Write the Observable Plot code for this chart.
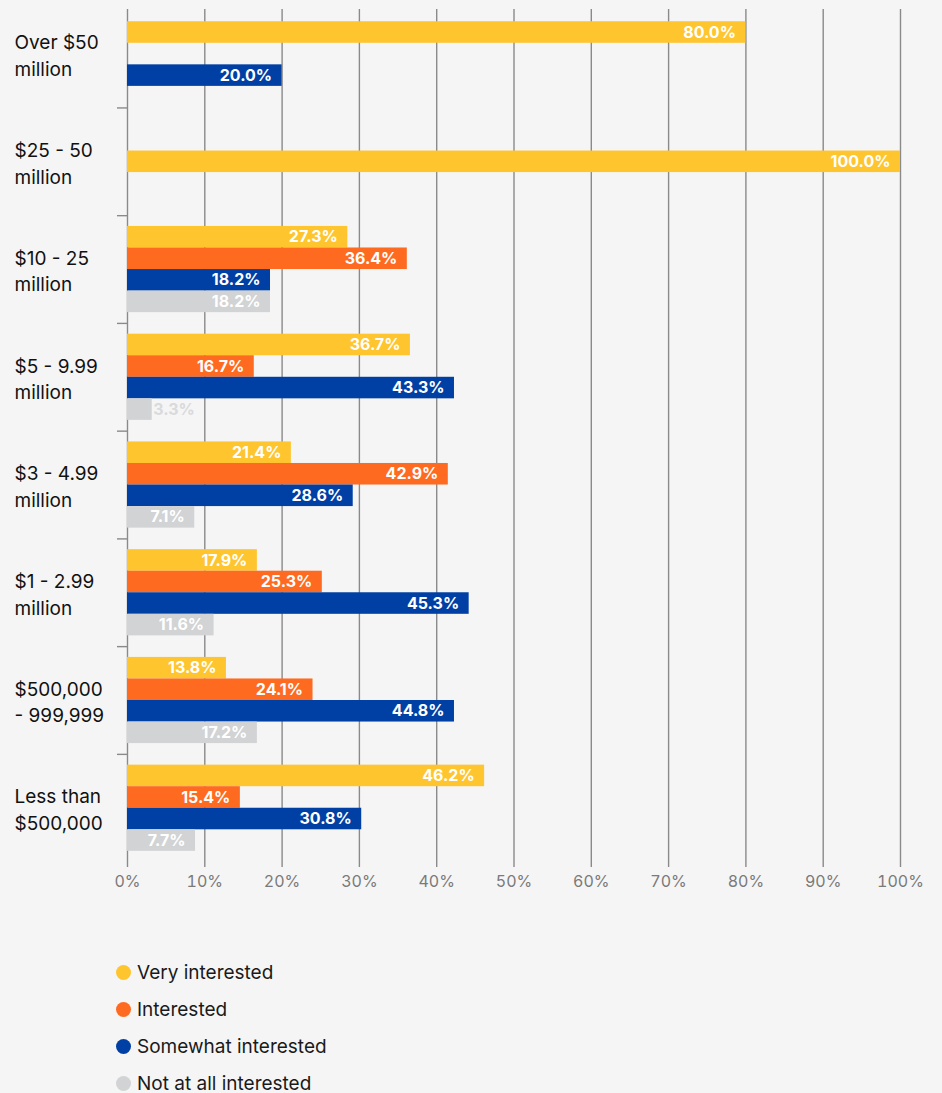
<!DOCTYPE html>
<html>
<head>
<meta charset="utf-8">
<script src="https://cdn.jsdelivr.net/npm/d3@7"></script>
<script src="https://cdn.jsdelivr.net/npm/@observablehq/plot@0.6"></script>
<style>
  html, body { margin: 0; padding: 0; background: #f5f5f5; }
  body { width: 942px; height: 1093px; overflow: hidden; font-family: Inter, "Liberation Sans", sans-serif; }
  #legend { margin-top: 49px; padding-left: 116px; }
  .item { display: flex; align-items: center; height: 37px; font-size: 19px; color: #1a1a1a; }
  .dot { width: 15px; height: 15px; border-radius: 50%; margin-right: 6px; flex: none; }
</style>
</head>
<body>
<div id="chart"></div>
<div id="legend"></div>
<script>
const categories = [
  "Over $50\nmillion",
  "$25 - 50\nmillion",
  "$10 - 25\nmillion",
  "$5 - 9.99\nmillion",
  "$3 - 4.99\nmillion",
  "$1 - 2.99\nmillion",
  "$500,000\n- 999,999",
  "Less than\n$500,000"
];
const series = ["Very interested", "Interested", "Somewhat interested", "Not at all interested"];
const colors = ["#ffc52f", "#ff6a21", "#0040a5", "#d1d3d4"];

// Bar lengths as drawn in the picture (percent)
const veryInterested = [80.0, 100.0, 28.5, 36.6, 21.2, 16.8, 12.8, 46.2];
const interested     = [0, 0, 36.2, 16.4, 41.5, 25.2, 24.0, 14.6];
const somewhat       = [20.0, 0, 18.5, 42.3, 29.2, 44.2, 42.3, 30.3];
const notAtAll       = [0, 0, 18.5, 3.2, 8.7, 11.2, 16.8, 8.8];

// Value labels as printed on the bars
const veryInterestedLabels = ["80.0%", "100.0%", "27.3%", "36.7%", "21.4%", "17.9%", "13.8%", "46.2%"];
const interestedLabels     = ["", "", "36.4%", "16.7%", "42.9%", "25.3%", "24.1%", "15.4%"];
const somewhatLabels       = ["20.0%", "", "18.2%", "43.3%", "28.6%", "45.3%", "44.8%", "30.8%"];
const notAtAllLabels       = ["", "", "18.2%", "3.3%", "7.1%", "11.6%", "17.2%", "7.7%"];

const xTicks = [0, 10, 20, 30, 40, 50, 60, 70, 80, 90, 100];

const values = [veryInterested, interested, somewhat, notAtAll];
const labels = [veryInterestedLabels, interestedLabels, somewhatLabels, notAtAllLabels];
const slot = 0.2;
const rows = [];
categories.forEach((c, i) => {
  const vals = values.map(v => v[i]);
  const nz = vals.map((v, j) => v > 0 ? j : -1).filter(j => j >= 0);
  const first = nz[0], last = nz[nz.length - 1];
  const n = last - first + 1;
  vals.forEach((v, j) => {
    if (!(v > 0)) return;
    const center = i + 0.5 + (j - first - (n - 1) / 2) * slot;
    rows.push({cat: c, series: series[j], color: colors[j], value: v,
      y1: center - slot / 2, y2: center + slot / 2, yc: center,
      label: labels[j][i]});
  });
});

const boundaries = d3.range(1, categories.length);

const chart = Plot.plot({
  width: 942,
  height: 905,
  marginLeft: 127,
  marginRight: 42,
  marginTop: 9,
  marginBottom: 38,
  style: {background: "#f5f5f5", fontFamily: "Inter, 'Liberation Sans', sans-serif", overflow: "visible"},
  x: {domain: [0, 100], axis: null},
  y: {domain: [0.0864, 8.05], reverse: true, axis: null},
  marks: [
    Plot.gridX(xTicks, {stroke: "#8a8a8a", strokeOpacity: 1, strokeWidth: 1.4}),
    Plot.axisX(xTicks, {anchor: "bottom", label: null, tickSize: 0, tickPadding: 8, tickFormat: d => d + "%", fontSize: 16, color: "#7a7a7a"}),
    Plot.axisY(boundaries, {anchor: "left", label: null, tickSize: 10, tickFormat: () => "", color: "#8a8a8a", strokeWidth: 1.4}),
    Plot.text(categories, {y: (d, i) => i + 0.5, text: d => d, frameAnchor: "left", dx: -113, textAnchor: "start",
      fontSize: 19, lineHeight: 1.4, fill: "#111"}),
    Plot.rectX(rows, {x1: 0, x2: "value", y1: "y1", y2: "y2", fill: "color"}),
    Plot.text(rows.filter(d => d.value >= 5), {x: "value", y: "yc", text: "label", textAnchor: "end", dx: -10,
      fill: "white", fontWeight: "bold", fontSize: 16}),
    Plot.text(rows.filter(d => d.value < 5), {x: "value", y: "yc", text: "label", textAnchor: "start", dx: 1,
      fill: "#d9dadb", fontWeight: "bold", fontSize: 16})
  ]
});
document.getElementById("chart").appendChild(chart);

const legend = document.getElementById("legend");
series.forEach((s, j) => {
  const item = document.createElement("div");
  item.className = "item";
  const dot = document.createElement("span");
  dot.className = "dot";
  dot.style.background = colors[j];
  const label = document.createElement("span");
  label.textContent = s;
  item.appendChild(dot);
  item.appendChild(label);
  legend.appendChild(item);
});
</script>
</body>
</html>
